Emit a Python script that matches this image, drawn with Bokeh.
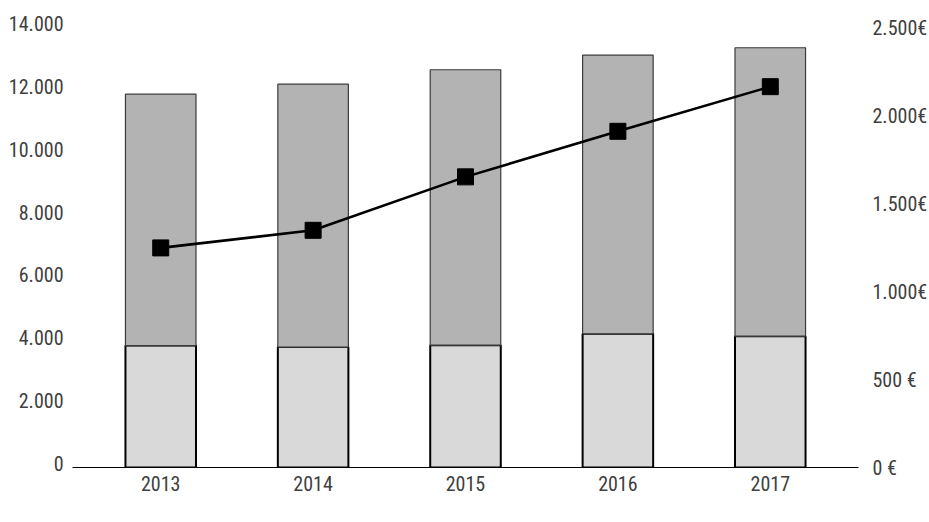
from bokeh.plotting import figure
from bokeh.models import (Range1d, LinearAxis, FixedTicker, Legend, LegendItem,
                          ColumnDataSource)
from bokeh.embed import file_html
from bokeh.resources import INLINE

# Data
years = ["2013", "2014", "2015", "2016", "2017"]
risorse_extra_lea = [693, 684, 695, 760, 746]        # €, lower stack
risorse_lea = [1428, 1494, 1565, 1583, 1639]         # €, upper stack
iscritti = [6860, 7420, 9120, 10570, 11990]          # left axis

left_ticks = [0, 2000, 4000, 6000, 8000, 10000, 12000, 14000]
left_tick_labels = ["0", "2.000", "4.000", "6.000", "8.000", "10.000", "12.000", "14.000"]
right_ticks = [0, 500, 1000, 1500, 2000, 2500]
right_tick_labels = ["0 €", "500 €", "1.000€", "1.500€", "2.000€", "2.500€"]

FONT = "Roboto Condensed"
TEXT_COLOR = "#404040"

xpos = list(range(len(years)))
totale = [a + b for a, b in zip(risorse_extra_lea, risorse_lea)]
src = ColumnDataSource(dict(x=xpos, extra=risorse_extra_lea, tot=totale,
                            zero=[0] * len(xpos), iscritti=iscritti))

p = figure(width=929, height=522, frame_width=786, frame_height=444,
           x_range=Range1d(-0.579, 4.579),
           y_range=Range1d(-127.27, 14000.01),
           output_backend="svg", toolbar_location=None,
           min_border_left=72, min_border_right=71, min_border_top=23,
           min_border_bottom=0, y_axis_location=None)
p.extra_y_ranges = {"eur": Range1d(0, 2522.73)}
p.outline_line_color = None
p.grid.grid_line_color = None
p.background_fill_color = "white"
p.border_fill_color = "white"

# Stacked bars (right axis, €)
r_extra = p.vbar(x="x", width=0.463, bottom="zero", top="extra", source=src,
                 y_range_name="eur", fill_color="#d9d9d9",
                 line_color="#000000", line_width=2)
r_lea = p.vbar(x="x", width=0.463, bottom="extra", top="tot", source=src,
               y_range_name="eur", fill_color="#b3b3b3",
               line_color="#3a3a3a", line_width=1.2)

# Iscritti line (left axis)
r_line = p.line(x="x", y="iscritti", source=src, line_color="black", line_width=2.6)
r_pts = p.scatter(x="x", y="iscritti", source=src, marker="square", size=16,
                  fill_color="black", line_color="black")


def style_axis(ax, standoff):
    ax.axis_label = None
    ax.axis_label_standoff = 0
    ax.major_tick_line_color = None
    ax.minor_tick_line_color = None
    ax.major_tick_out = 0
    ax.major_tick_in = 0
    ax.minor_tick_out = 0
    ax.minor_tick_in = 0
    ax.major_label_standoff = standoff
    ax.major_label_text_font = FONT
    ax.major_label_text_font_size = "20px"
    ax.major_label_text_color = TEXT_COLOR


left = LinearAxis(ticker=FixedTicker(ticks=left_ticks),
                  major_label_overrides={t: s for t, s in zip(left_ticks, left_tick_labels)})
right = LinearAxis(y_range_name="eur", ticker=FixedTicker(ticks=right_ticks),
                   major_label_overrides={t: s for t, s in zip(right_ticks, right_tick_labels)})
for ax, standoff in ((left, 9), (right, 14)):
    style_axis(ax, standoff)
    ax.axis_line_color = None
p.add_layout(left, "left")
p.add_layout(right, "right")

xa = p.xaxis[0]
xa.ticker = FixedTicker(ticks=xpos)
xa.major_label_overrides = {i: y for i, y in enumerate(years)}
style_axis(xa, 8)
xa.axis_line_color = "black"
xa.axis_line_width = 1.2

legend = Legend(items=[
    LegendItem(label="Totale risorse extra LEA", renderers=[r_extra]),
    LegendItem(label="Totale risorse LEA", renderers=[r_lea]),
    LegendItem(label="Iscritti", renderers=[r_line, r_pts]),
], orientation="horizontal", location="center",
    glyph_width=44, glyph_height=16, label_standoff=2, spacing=30,
    padding=0, margin=0, border_line_color=None, background_fill_alpha=0,
    label_text_font=FONT, label_text_font_size="20px",
    label_text_color=TEXT_COLOR, label_height=16)
p.add_layout(legend, "below")

open("out.html", "w").write(file_html(p, INLINE))
